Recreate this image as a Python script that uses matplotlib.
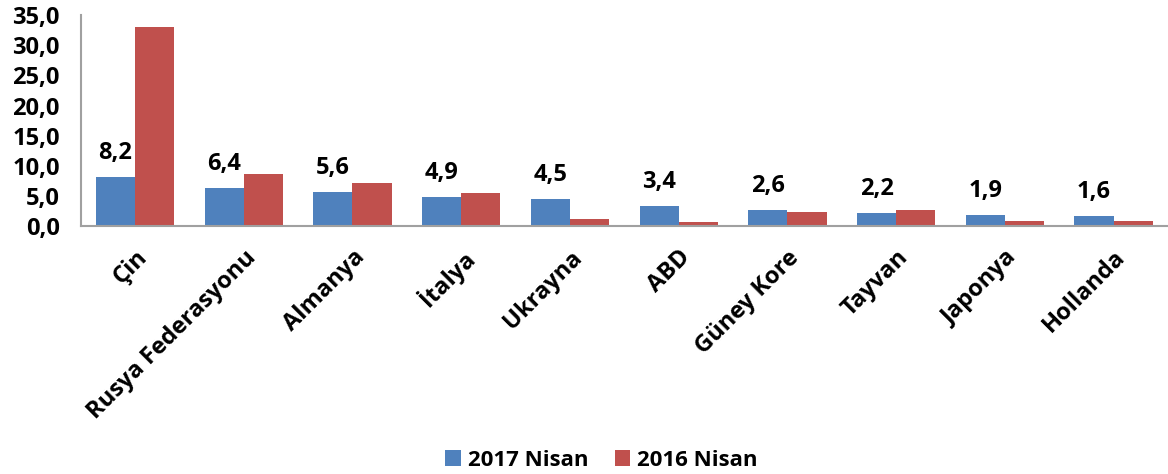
import numpy as np
import matplotlib
matplotlib.use('Agg')
import matplotlib.pyplot as plt

plt.rcParams['font.family'] = ['Open Sans', 'DejaVu Sans']
plt.rcParams['font.weight'] = 'bold'

countries = ['Çin', 'Rusya Federasyonu', 'Almanya', 'İtalya', 'Ukrayna',
             'ABD', 'Güney Kore', 'Tayvan', 'Japonya', 'Hollanda']
nisan_2017 = [8.2, 6.4, 5.6, 4.9, 4.5, 3.4, 2.6, 2.2, 1.9, 1.6]
nisan_2016 = [33.0, 8.6, 7.1, 5.5, 1.1, 0.7, 2.4, 2.7, 0.8, 0.9]
yticks = [0, 5, 10, 15, 20, 25, 30, 35]

blue = '#4F81BD'
red = '#C0504D'
w = 0.36
x = np.arange(len(countries))

fig = plt.figure(figsize=(11.68, 4.74), dpi=100)
ax = fig.add_axes([0.069, 0.523, 0.931, 0.445])

ax.bar(x - w / 2, nisan_2017, w, color=blue, label='2017 Nisan')
ax.bar(x + w / 2, nisan_2016, w, color=red, label='2016 Nisan')

for xi, v in zip(x, nisan_2017):
    ax.annotate(f'{v:.1f}'.replace('.', ','), (xi - w / 2, v),
                xytext=(0, 12), textcoords='offset pixels',
                ha='center', va='bottom', fontsize=17, fontweight='bold')

ax.set_xlim(-0.5, len(countries) - 0.5)
ax.set_ylim(0, 35)
ax.set_yticks(yticks)
ax.set_yticklabels([f'{t:.1f}'.replace('.', ',') for t in yticks],
                   fontsize=17, fontweight='bold')
ax.set_xticks(x)
ax.set_xticklabels(countries, rotation=45, ha='right', rotation_mode='anchor',
                   fontsize=17, fontweight='bold')
ax.tick_params(axis='both', length=0)
ax.tick_params(axis='y', pad=15)
ax.tick_params(axis='x', pad=14)

for s in ['top', 'right']:
    ax.spines[s].set_visible(False)
for s in ['left', 'bottom']:
    ax.spines[s].set_color('#A0A0A0')
    ax.spines[s].set_linewidth(1.5)

fig.legend(loc='lower center', bbox_to_anchor=(0.515, -0.035), ncol=2,
           frameon=False, prop={'size': 16, 'weight': 'bold'},
           handlelength=0.7, handleheight=0.7, columnspacing=1.2,
           handletextpad=0.3)

fig.savefig('out.png', dpi=100)
